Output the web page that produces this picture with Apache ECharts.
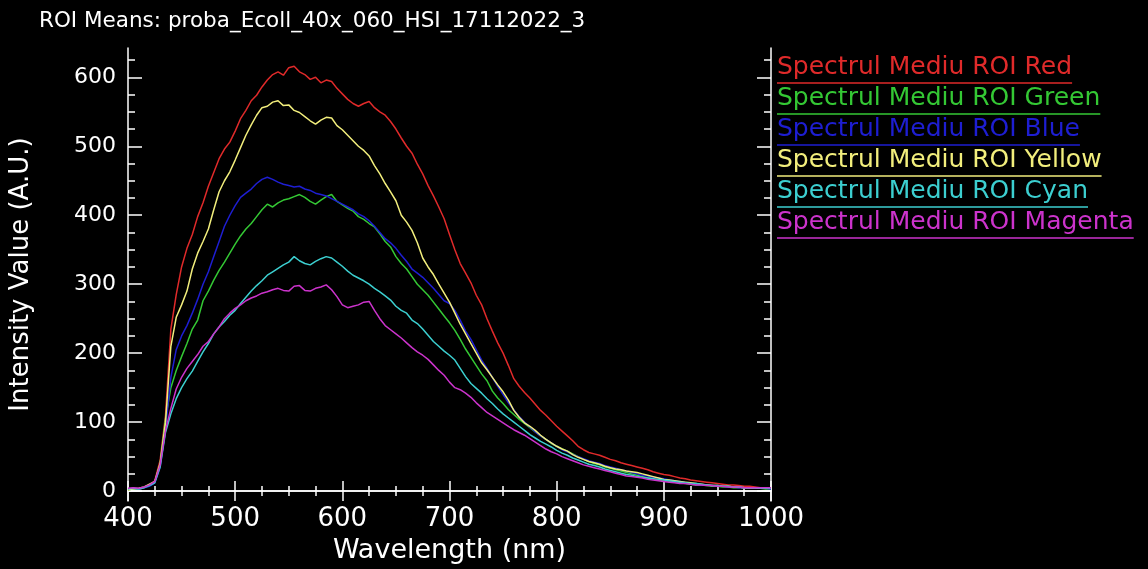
<!DOCTYPE html>
<html>
<head>
<meta charset="utf-8">
<script src="https://cdn.jsdelivr.net/npm/echarts@6/dist/echarts.min.js"></script>
<style>
  html, body { margin: 0; padding: 0; background: #000; }
  #main { width: 1148px; height: 569px; }
</style>
</head>
<body>
<div id="main"></div>
<script>
const wavelengths = [
  400, 405, 410, 415, 420, 425, 430, 435, 440, 445, 450, 455, 460, 465, 470, 475, 480, 485, 490, 495,
  500, 505, 510, 515, 520, 525, 530, 535, 540, 545, 550, 555, 560, 565, 570, 575, 580, 585, 590, 595,
  600, 605, 610, 615, 620, 625, 630, 635, 640, 645, 650, 655, 660, 665, 670, 675, 680, 685, 690, 695,
  700, 705, 710, 715, 720, 725, 730, 735, 740, 745, 750, 755, 760, 765, 770, 775, 780, 785, 790, 795,
  800, 805, 810, 815, 820, 825, 830, 835, 840, 845, 850, 855, 860, 865, 870, 875, 880, 885, 890, 895,
  900, 905, 910, 915, 920, 925, 930, 935, 940, 945, 950, 955, 960, 965, 970, 975, 980, 985, 990, 995,
  1000,
];

const redValues = [
  2, 4, 3, 5, 8, 15, 45, 110, 235, 285, 325, 352, 372, 398, 418, 442, 462, 482, 496, 506,
  522, 540, 552, 566, 574, 586, 596, 604, 608, 603, 614, 616, 608, 604, 597, 600, 592, 596, 594, 584,
  576, 568, 562, 558, 562, 565, 556, 550, 545, 536, 525, 512, 500, 490, 474, 460, 443, 428, 412, 395,
  372, 350, 330, 316, 302, 284, 270, 250, 232, 215, 200, 182, 163, 152, 143, 135, 126, 117, 110, 102,
  94, 87, 80, 73, 65, 60, 56, 54, 52, 49, 46, 44, 41, 39, 37, 35, 33, 31, 28, 26,
  24, 23, 21, 19, 18, 16, 15, 14, 13, 12, 11, 10, 9, 9, 8, 7, 7, 6, 5, 5,
  4,
];

const greenValues = [
  2, 3, 3, 5, 8, 13, 40, 105, 150, 175, 195, 214, 235, 248, 276, 290, 306, 320, 332, 345,
  358, 370, 380, 388, 398, 408, 416, 412, 418, 422, 424, 427, 430, 426, 420, 416, 422, 427, 430, 420,
  415, 410, 406, 398, 394, 388, 383, 373, 362, 354, 340, 330, 322, 311, 300, 292, 284, 274, 264, 254,
  244, 233, 220, 206, 194, 182, 170, 160, 145, 135, 127, 118, 111, 104, 98, 92, 86, 80, 75, 69,
  65, 61, 58, 54, 50, 46, 43, 40, 38, 35, 33, 31, 29, 27, 25, 23, 21, 19, 18, 16,
  15, 14, 13, 12, 11, 10, 9, 9, 8, 7, 7, 6, 6, 5, 5, 5, 4, 4, 4, 3,
  3,
];

const blueValues = [
  3, 4, 3, 5, 7, 12, 35, 90, 165, 205, 225, 240, 258, 278, 300, 318, 340, 362, 384, 400,
  414, 426, 432, 438, 446, 452, 455, 452, 448, 445, 443, 441, 442, 438, 436, 432, 430, 428, 424, 420,
  416, 412, 408, 402, 398, 392, 384, 375, 366, 360, 352, 342, 333, 322, 316, 310, 302, 294, 285, 276,
  272, 262, 248, 232, 220, 205, 190, 178, 165, 152, 140, 128, 118, 108, 100, 93, 86, 80, 75, 70,
  65, 60, 57, 53, 50, 47, 44, 42, 40, 37, 35, 33, 31, 29, 27, 25, 23, 22, 20, 19,
  18, 16, 15, 14, 12, 11, 10, 9, 9, 8, 7, 7, 6, 6, 5, 5, 5, 4, 4, 4,
  3,
];

const yellowValues = [
  2, 3, 4, 6, 10, 14, 40, 100, 210, 252, 270, 290, 322, 345, 362, 380, 408, 434, 450, 463,
  480, 498, 516, 531, 545, 556, 558, 564, 566, 559, 560, 552, 549, 543, 537, 532, 538, 542, 541, 530,
  524, 516, 508, 500, 494, 486, 472, 460, 446, 434, 421, 400, 390, 378, 360, 338, 325, 314, 300, 287,
  274, 258, 242, 228, 214, 200, 186, 176, 165, 154, 144, 132, 117, 107, 99, 94, 88, 81, 75, 70,
  65, 61, 58, 53, 49, 46, 43, 41, 39, 36, 34, 32, 31, 29, 28, 27, 25, 23, 21, 19,
  17, 16, 15, 14, 13, 12, 11, 10, 9, 8, 8, 7, 7, 6, 6, 5, 5, 5, 4, 4,
  4,
];

const cyanValues = [
  3, 4, 3, 5, 8, 12, 35, 85, 112, 134, 150, 163, 174, 188, 202, 214, 228, 238, 246, 255,
  262, 272, 281, 290, 298, 305, 313, 318, 323, 328, 332, 340, 334, 330, 328, 333, 337, 340, 338, 332,
  326, 319, 313, 309, 305, 300, 294, 289, 283, 277, 268, 262, 258, 248, 243, 235, 226, 217, 210, 203,
  197, 190, 178, 166, 156, 149, 142, 134, 127, 119, 112, 106, 100, 94, 88, 82, 77, 72, 68, 64,
  59, 55, 52, 48, 45, 42, 39, 37, 35, 32, 30, 28, 26, 24, 23, 21, 20, 19, 18, 17,
  16, 15, 14, 13, 12, 11, 11, 10, 9, 8, 8, 7, 7, 6, 6, 5, 5, 5, 4, 4,
  4,
];

const magentaValues = [
  4, 5, 4, 6, 9, 14, 38, 88, 120, 148, 165, 178, 188, 198, 210, 217, 228, 238, 250, 258,
  265, 270, 276, 280, 283, 287, 289, 292, 294, 291, 290, 297, 298, 291, 290, 294, 296, 299, 292, 282,
  270, 266, 268, 270, 274, 275, 262, 250, 240, 234, 228, 222, 215, 208, 202, 197, 191, 183, 175, 168,
  158, 150, 147, 142, 136, 128, 121, 114, 109, 104, 99, 94, 89, 85, 81, 76, 71, 66, 61, 57,
  54, 50, 47, 44, 41, 38, 36, 34, 32, 30, 28, 26, 24, 22, 21, 20, 19, 17, 16, 15,
  14, 13, 12, 11, 11, 10, 9, 9, 8, 8, 7, 7, 6, 6, 6, 5, 5, 5, 5, 5,
  5,
];

const seriesNames = [
  'Spectrul Mediu ROI Red',
  'Spectrul Mediu ROI Green',
  'Spectrul Mediu ROI Blue',
  'Spectrul Mediu ROI Yellow',
  'Spectrul Mediu ROI Cyan',
  'Spectrul Mediu ROI Magenta',
];
const seriesValues = [redValues, greenValues, blueValues, yellowValues, cyanValues, magentaValues];
const seriesColors = ['#e02a2a', '#34c834', '#1e1ed2', '#f2ee7c', '#3ccfd0', '#cc33cc'];

const xTicks = [400, 500, 600, 700, 800, 900, 1000];
const yMajorTicks = [0, 100, 200, 300, 400, 500, 600];
const yMinorTicks = [25, 50, 75, 125, 150, 175, 225, 250, 275, 325, 350, 375, 425, 450, 475, 525, 550, 575, 625];

const FONT = 'DejaVu Sans';
const dom = document.getElementById('main');
const myChart = echarts.init(dom, null, { renderer: 'canvas' });

function makeYAxis(position, major, showLabels) {
  return {
    type: 'value',
    position: position,
    min: -14.5,
    max: 642.5,
    axisLine: { show: major, lineStyle: { color: '#fff', width: 1.5 } },
    axisTick: {
      show: true,
      inside: true,
      length: major ? 14 : 7,
      customValues: major ? yMajorTicks : yMinorTicks,
      lineStyle: { color: '#fff', width: 1.5 },
    },
    axisLabel: {
      show: showLabels,
      customValues: yMajorTicks,
      color: '#fff',
      fontFamily: FONT,
      fontSize: 22,
      margin: 12,
    },
    splitLine: { show: false },
  };
}

function makeXAxis(position, showLabels) {
  return {
    type: 'value',
    position: position,
    min: xTicks[0],
    max: xTicks[xTicks.length - 1],
    interval: 100,
    name: showLabels ? 'Wavelength (nm)' : '',
    nameLocation: 'middle',
    nameGap: 22,
    nameTextStyle: { color: '#fff', fontFamily: FONT, fontSize: 27 },
    axisLine: { show: true, lineStyle: { color: '#fff', width: 1.5 } },
    axisTick: { show: true, inside: true, length: 10, lineStyle: { color: '#fff', width: 1.5 } },
    minorTick: { show: true, splitNumber: 4, length: 5, lineStyle: { color: '#fff', width: 1.5 } },
    axisLabel: {
      show: showLabels,
      color: '#fff',
      fontFamily: FONT,
      fontSize: 26,
      margin: 5,
      formatter: (v) => String(v),
    },
    splitLine: { show: false },
  };
}

const legendRich = {};
seriesColors.forEach((c, i) => {
  legendRich['t' + i] = { color: c, fontFamily: FONT, fontSize: 25, lineHeight: 22 };
  legendRich['u' + i] = { backgroundColor: c, width: '100%', height: 1.5, lineHeight: 9 };
});

const yLeft = makeYAxis('left', true, true);
yLeft.name = 'Intensity Value (A.U.)';
yLeft.nameLocation = 'middle';
yLeft.nameGap = 94;
yLeft.nameTextStyle = { color: '#fff', fontFamily: FONT, fontSize: 26 };

const options = {
  backgroundColor: '#000',
  animation: false,
  title: {
    text: 'ROI Means: proba_Ecoll_40x_060_HSI_17112022_3',
    left: 34,
    top: 5,
    textStyle: { color: '#fff', fontFamily: FONT, fontSize: 21.5, fontWeight: 'normal' },
  },
  legend: {
    data: seriesNames,
    orient: 'vertical',
    left: 766,
    top: 50,
    itemGap: -3,
    itemWidth: 0,
    itemHeight: 0,
    selectedMode: false,
    formatter: (name) => {
      const i = seriesNames.indexOf(name);
      return `{t${i}|${name}}\n{u${i}|}`;
    },
    textStyle: { rich: legendRich },
  },
  grid: { left: 127, right: 377, top: 48, bottom: 59 },
  xAxis: [makeXAxis('bottom', true), makeXAxis('top', false)],
  yAxis: [yLeft, makeYAxis('left', false, false), makeYAxis('right', true, false), makeYAxis('right', false, false)],
  series: seriesNames.map((name, i) => ({
    name: name,
    type: 'line',
    showSymbol: false,
    symbol: 'none',
    color: seriesColors[i],
    lineStyle: { color: seriesColors[i], width: 1.5 },
    data: wavelengths.map((w, k) => [w, seriesValues[i][k]]),
  })),
};

myChart.setOption(options);
</script>
</body>
</html>
